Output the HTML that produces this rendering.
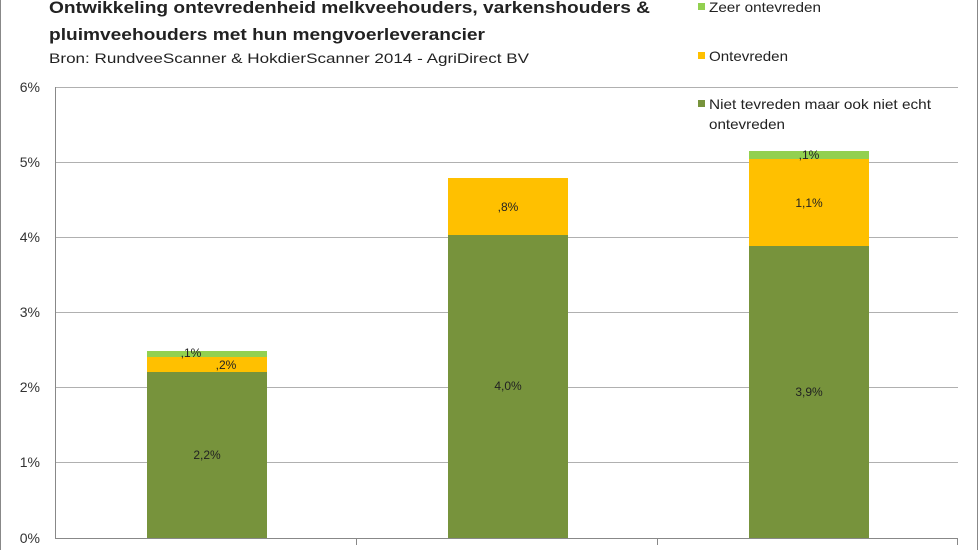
<!DOCTYPE html>
<html><head><style>
body{margin:0;background:#fff;}
svg{display:block;font-family:"Liberation Sans",sans-serif;}
</style></head><body>
<svg width="978" height="550" viewBox="0 0 978 550" xmlns="http://www.w3.org/2000/svg">
<rect x="0.5" y="-2" width="977" height="560" fill="#fff" stroke="#888"/>
<text x="49" y="13" font-size="17" font-weight="bold" fill="#222" textLength="601" lengthAdjust="spacingAndGlyphs">Ontwikkeling ontevredenheid melkveehouders, varkenshouders &amp;</text>
<text x="49" y="40" font-size="17" font-weight="bold" fill="#222" textLength="436" lengthAdjust="spacingAndGlyphs">pluimveehouders met hun mengvoerleverancier</text>
<text x="49" y="63" font-size="14" fill="#222" textLength="480" lengthAdjust="spacingAndGlyphs">Bron: RundveeScanner &amp; HokdierScanner 2014 - AgriDirect BV</text>
<g stroke="#b0b0b0" stroke-width="1">
<line x1="55" y1="87.5" x2="958" y2="87.5"/>
<line x1="55" y1="162.5" x2="958" y2="162.5"/>
<line x1="55" y1="237.5" x2="958" y2="237.5"/>
<line x1="55" y1="312.5" x2="958" y2="312.5"/>
<line x1="55" y1="387.5" x2="958" y2="387.5"/>
<line x1="55" y1="462.5" x2="958" y2="462.5"/>
</g>
<g stroke="#888" stroke-width="1">
<line x1="55.5" y1="87" x2="55.5" y2="538"/>
<line x1="55" y1="538.5" x2="958" y2="538.5"/>
<line x1="356.5" y1="538" x2="356.5" y2="545"/>
<line x1="657.5" y1="538" x2="657.5" y2="545"/>
<line x1="957.5" y1="538" x2="957.5" y2="545"/>
</g>
<g font-size="14" fill="#333" text-anchor="end">
<text x="40" y="92">6%</text><text x="40" y="167">5%</text><text x="40" y="242">4%</text>
<text x="40" y="317">3%</text><text x="40" y="392">2%</text><text x="40" y="467">1%</text><text x="40" y="543">0%</text>
</g>
<rect x="147" y="372" width="120" height="166" fill="#77933c"/>
<rect x="147" y="357" width="120" height="15" fill="#ffc000"/>
<rect x="147" y="351" width="120" height="6" fill="#92d050"/>
<rect x="448" y="235" width="120" height="303" fill="#77933c"/>
<rect x="448" y="178" width="120" height="57" fill="#ffc000"/>
<rect x="749" y="246" width="120" height="292" fill="#77933c"/>
<rect x="749" y="159" width="120" height="87" fill="#ffc000"/>
<rect x="749" y="151" width="120" height="8" fill="#92d050"/>
<g font-size="12" fill="#222" text-anchor="middle">
<text x="207" y="459">2,2%</text><text x="226" y="369">,2%</text><text x="191" y="357">,1%</text>
<text x="508" y="390">4,0%</text><text x="508" y="211">,8%</text>
<text x="809" y="396">3,9%</text><text x="809" y="207">1,1%</text><text x="809" y="159">,1%</text>
</g>
<g font-size="14" fill="#222">
<rect x="698" y="3" width="7" height="7" fill="#92d050"/><text x="709" y="12" textLength="112" lengthAdjust="spacingAndGlyphs">Zeer ontevreden</text>
<rect x="698" y="52" width="7" height="7" fill="#ffc000"/><text x="709" y="61" textLength="79" lengthAdjust="spacingAndGlyphs">Ontevreden</text>
<rect x="698" y="100" width="7" height="7" fill="#77933c"/><text x="709" y="109" textLength="222" lengthAdjust="spacingAndGlyphs">Niet tevreden maar ook niet echt</text>
<text x="709" y="129" textLength="76" lengthAdjust="spacingAndGlyphs">ontevreden</text>
</g>
</svg>
</body></html>
